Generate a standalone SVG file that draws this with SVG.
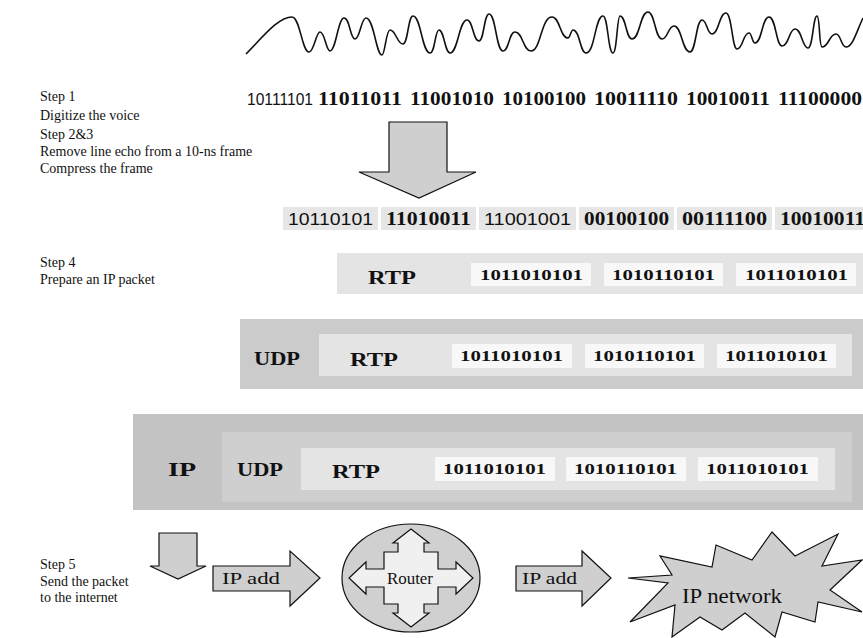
<svg xmlns="http://www.w3.org/2000/svg" width="863" height="638" viewBox="0 0 863 638">
<style>
.lbl{font-family:"Liberation Serif",serif;font-size:14px;fill:#111}
.sn{font-family:"Liberation Sans",sans-serif;font-size:17px;fill:#111}
.bd{font-family:"Liberation Serif",serif;font-weight:bold;font-size:18px;fill:#111}
.dt{font-family:"Liberation Serif",serif;font-weight:bold;font-size:15px;fill:#111}
.hd{font-family:"Liberation Serif",serif;font-weight:bold;font-size:19px;fill:#111}
.ar{fill:#cfcfcf;stroke:#111;stroke-width:1.2}
.bx{fill:#e6e6e6}
.wb{fill:#f8f8f8}
.rm{font-family:"Liberation Serif",serif;font-size:16px;fill:#111}
</style>
<rect width="863" height="638" fill="#fff"/>
<g id="wave">
<path fill="none" stroke="#111" stroke-width="1.6" d="M246,54 C262,38 278,17 292,17 C300,17 302,52 309,52 C314,52 316,32 320,32 C325,32 326,51 330,51 C336,51 338,18 344,18 C350,18 350,39 355,39 C360,39 361,18 366,18 C374,18 376,55 382,55 C385,55 386,30 390,30 C396,30 397,44 403,44 C408,44 408,16 413,16 C421,16 422,53 430,53 C435,53 435,30 439,30 C444,30 445,53 450,53 C458,53 459,20 467,20 C473,20 473,41 479,41 C484,41 484,14 489,14 C496,14 496,51 503,51 C509,51 509,32 515,32 C523,32 523,51 531,51 C541,51 541,17 552,17 C560,17 560,38 568,38 C570,38 571,30 573,30 C580,30 580,53 586,53 C595,53 595,16 603,16 C608,16 608,53 613,53 C617,53 617,16 620,16 C626,16 626,39 632,39 C640,39 640,12 648,12 C655,12 655,39 662,39 C668,39 668,26 674,26 C682,26 682,52 690,52 C696,52 696,20 702,20 C707,20 707,34 712,34 C719,34 719,13 726,13 C732,13 732,49 737,49 C743,49 743,33 749,33 C752,33 752,43 755,43 C762,43 762,17 769,17 C776,17 776,46 782,46 C789,46 789,29 795,29 C802,29 802,48 808,48 C813,48 813,16 817,16 C820,16 819,47 822,47 C829,47 829,34 836,34 C841,34 841,47 846,47 C853,47 857,30 863,18"/>
</g>
<g id="labels">
<text class="lbl" x="40" y="101">Step 1</text>
<text class="lbl" x="40" y="120">Digitize the voice</text>
<text class="lbl" x="40" y="139">Step 2&amp;3</text>
<text class="lbl" x="40" y="156">Remove line echo from a 10-ns frame</text>
<text class="lbl" x="40" y="173">Compress the frame</text>
<text class="lbl" x="40" y="267">Step 4</text>
<text class="lbl" x="40" y="284">Prepare an IP packet</text>
<text class="lbl" x="40" y="569">Step 5</text>
<text class="lbl" x="40" y="586">Send the packet</text>
<text class="lbl" x="40" y="602">to the internet</text>
</g>
<g id="digitized">
<text class="sn" x="247" y="105" textLength="66" lengthAdjust="spacingAndGlyphs">10111101</text>
<text class="bd" x="318" y="105" textLength="84" lengthAdjust="spacingAndGlyphs">11011011</text>
<text class="bd" x="410" y="105" textLength="84" lengthAdjust="spacingAndGlyphs">11001010</text>
<text class="bd" x="502" y="105" textLength="84" lengthAdjust="spacingAndGlyphs">10100100</text>
<text class="bd" x="594" y="105" textLength="84" lengthAdjust="spacingAndGlyphs">10011110</text>
<text class="bd" x="686" y="105" textLength="84" lengthAdjust="spacingAndGlyphs">10010011</text>
<text class="bd" x="778" y="105" textLength="84" lengthAdjust="spacingAndGlyphs">11100000</text>
</g>
<g id="compress-arrow">
<path class="ar" d="M389,122 H447 V172 H476 L419,198 L359,172 H389 Z"/>
</g>
<g id="frame">
<rect class="bx" x="283" y="207" width="95" height="23"/>
<rect class="bx" x="381" y="207" width="95" height="23"/>
<rect class="bx" x="479" y="207" width="97" height="23"/>
<rect class="bx" x="579" y="207" width="95" height="23"/>
<rect class="bx" x="677" y="207" width="95" height="23"/>
<rect class="bx" x="775" y="207" width="95" height="23"/>
<text class="sn" x="288" y="225" textLength="85" lengthAdjust="spacingAndGlyphs">10110101</text>
<text class="bd" x="386" y="225" textLength="85" lengthAdjust="spacingAndGlyphs">11010011</text>
<text class="sn" x="484" y="225" textLength="87" lengthAdjust="spacingAndGlyphs">11001001</text>
<text class="bd" x="584" y="225" textLength="85" lengthAdjust="spacingAndGlyphs">00100100</text>
<text class="bd" x="682" y="225" textLength="85" lengthAdjust="spacingAndGlyphs">00111100</text>
<text class="bd" x="780" y="225" textLength="85" lengthAdjust="spacingAndGlyphs">10010011</text>
</g>
<g id="rtp-packet">
<rect x="337" y="253" width="530" height="41" fill="#e4e4e4"/>
<text class="hd" x="368" y="284" textLength="48" lengthAdjust="spacingAndGlyphs">RTP</text>
<rect class="wb" x="471" y="263" width="120" height="23"/>
<rect class="wb" x="604" y="263" width="119" height="23"/>
<rect class="wb" x="736" y="263" width="120" height="23"/>
<text class="dt" x="480" y="280" textLength="103" lengthAdjust="spacingAndGlyphs">1011010101</text>
<text class="dt" x="612" y="280" textLength="103" lengthAdjust="spacingAndGlyphs">1010110101</text>
<text class="dt" x="745" y="280" textLength="103" lengthAdjust="spacingAndGlyphs">1011010101</text>
</g>
<g id="udp-packet">
<rect x="240" y="319" width="630" height="70" fill="#cbcbcb"/>
<rect x="319" y="334" width="533" height="42" fill="#e4e4e4"/>
<text class="hd" x="254" y="365" textLength="46" lengthAdjust="spacingAndGlyphs">UDP</text>
<text class="hd" x="350" y="366" textLength="48" lengthAdjust="spacingAndGlyphs">RTP</text>
<rect class="wb" x="452" y="344" width="120" height="24"/>
<rect class="wb" x="585" y="344" width="119" height="24"/>
<rect class="wb" x="717" y="344" width="119" height="24"/>
<text class="dt" x="460" y="361" textLength="103" lengthAdjust="spacingAndGlyphs">1011010101</text>
<text class="dt" x="593" y="361" textLength="103" lengthAdjust="spacingAndGlyphs">1010110101</text>
<text class="dt" x="725" y="361" textLength="103" lengthAdjust="spacingAndGlyphs">1011010101</text>
</g>
<g id="ip-packet">
<rect x="133" y="414" width="737" height="96" fill="#c3c3c3"/>
<rect x="222" y="432" width="630" height="70" fill="#cfcfcf"/>
<rect x="301" y="448" width="534" height="42" fill="#e4e4e4"/>
<text class="hd" x="168" y="476" textLength="28" lengthAdjust="spacingAndGlyphs">IP</text>
<text class="hd" x="237" y="476" textLength="46" lengthAdjust="spacingAndGlyphs">UDP</text>
<text class="hd" x="332" y="478" textLength="48" lengthAdjust="spacingAndGlyphs">RTP</text>
<rect class="wb" x="435" y="457" width="120" height="24"/>
<rect class="wb" x="566" y="457" width="120" height="24"/>
<rect class="wb" x="698" y="457" width="120" height="24"/>
<text class="dt" x="443" y="474" textLength="103" lengthAdjust="spacingAndGlyphs">1011010101</text>
<text class="dt" x="574" y="474" textLength="103" lengthAdjust="spacingAndGlyphs">1010110101</text>
<text class="dt" x="706" y="474" textLength="103" lengthAdjust="spacingAndGlyphs">1011010101</text>
</g>
<g id="connectors">
<path id="send-arrow" class="ar" d="M159,533 H197 V566 H206 L178,579 L150,566 H159 Z"/>
<g id="ipadd1">
<path class="ar" d="M213,566 H290 V551 L320,578 L290,606 V591 H213 Z"/>
<text class="rm" x="222" y="584" textLength="58" lengthAdjust="spacingAndGlyphs">IP add</text>
</g>
<g id="ipadd2">
<path class="ar" d="M516,566 H582 V551 L611,578 L582,606 V591 H516 Z"/>
<text class="rm" x="522" y="584" textLength="55" lengthAdjust="spacingAndGlyphs">IP add</text>
</g>
</g>
<g id="router">
<ellipse cx="411" cy="578" rx="69" ry="54" fill="#d0d0d0" stroke="#111" stroke-width="1.2"/>
<path fill="#f0f0f0" stroke="#111" stroke-width="1.2" d="M411,529 L429,543 H424 V552 H438 V569 H456 V562 L473,578 L456,594 V587 H438 V604 H424 V613 H429 L411,627 L393,613 H398 V604 H384 V587 H366 V594 L349,578 L366,562 V569 H384 V552 H398 V543 H393 Z"/>
<text class="rm" x="387" y="584" textLength="46" lengthAdjust="spacingAndGlyphs">Router</text>
</g>
<g id="ip-network">
<polygon fill="#cfcfcf" stroke="#111" stroke-width="1.2" points="628,578 668,583 630,622 675,605 672,637 700,617 722,630 745,613 775,637 782,612 815,622 818,602 862,612 830,590 862,560 822,566 838,534 795,556 772,532 752,560 716,545 712,567 660,556 672,575"/>
<text class="rm" x="682" y="603" style="font-size:21px" textLength="100" lengthAdjust="spacingAndGlyphs">IP network</text>
</g>
</svg>
